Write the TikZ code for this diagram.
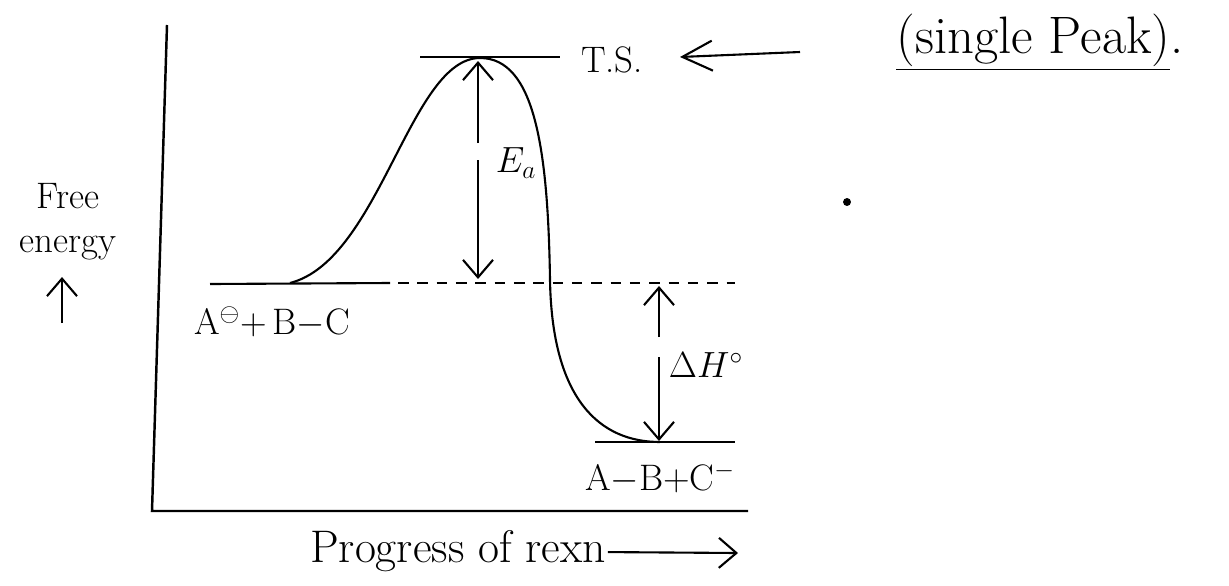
\documentclass[tikz,border=0pt]{standalone}
\usepackage{tikz}
\usetikzlibrary{arrows.meta,positioning}

\begin{document}
\begin{tikzpicture}[
  x=0.02cm, y=-0.02cm,
  every node/.style={font=\fontsize{21}{25}\selectfont, inner sep=1pt},
  bignote/.style={font=\fontsize{30}{34}\selectfont},
  axislabel/.style={font=\fontsize{26}{30}\selectfont},
  axis/.style={line width=1.4pt},
  level/.style={line width=1.2pt},
  guide/.style={line width=1.1pt, dash pattern=on 6pt off 5pt},
  curve/.style={line width=1.2pt},
  edge/.style={-{Straight Barb[length=3.5mm,width=6mm]}, line width=1.2pt},
  pointer/.style={-{Straight Barb[length=6mm,width=6mm]}, line width=1.2pt}
]
\useasboundingbox (0,0) rectangle (1229,585);

\coordinate (ytop) at (167,25);
\coordinate (origin) at (152,511);
\coordinate (xend) at (748,511);
\draw[axis] (ytop) -- (origin) -- (xend);

\coordinate (reacL) at (210,284);
\coordinate (reacR) at (390,283);
\coordinate (dashL) at (398,283);
\coordinate (dashR) at (735,283);
\coordinate (prodL) at (595,442);
\coordinate (prodR) at (735,442);
\coordinate (tsL) at (420,57);
\coordinate (tsR) at (560,57);
\draw[level] (reacL) -- (reacR);
\draw[guide] (dashL) -- (dashR);
\draw[level] (prodL) -- (prodR);
\draw[level] (tsL) -- (tsR);

\coordinate (start) at (290,283);
\coordinate (peak) at (480,58);
\coordinate (drop) at (550,280);
\coordinate (finish) at (660,442);
\draw[curve] (start) .. controls (380,260) and (410,58) .. (peak)
  .. controls (535,58) and (548,150) .. (drop)
  .. controls (552,400) and (600,442) .. (finish);

\node (ts) at (612,60) {T.S.};
\coordinate (tsfrom) at (800,52);
\coordinate (tstip) at (680,57);
\draw[pointer] (tsfrom) -- (tstip);
\node[bignote] (peaknote) at (1040,42) {\underline{(single Peak)}.};

\node (ea) at (516,163) {$E_a$};
\coordinate (eatop) at (478,61);
\coordinate (eamidA) at (478,143);
\coordinate (eamidB) at (478,160);
\coordinate (eabot) at (478,279);
\draw[edge] (eamidA) -- (eatop);
\draw[edge] (eamidB) -- (eabot);

\node (dh) at (706,365) {$\Delta H^{\circ}$};
\coordinate (dhtop) at (659,286);
\coordinate (dhmidA) at (659,337);
\coordinate (dhmidB) at (659,357);
\coordinate (dhbot) at (659,441);
\draw[edge] (dhmidA) -- (dhtop);
\draw[edge] (dhmidB) -- (dhbot);

\node[align=center] (ylab) at (68,222) {Free\\energy};
\coordinate (yarrowB) at (62,323);
\coordinate (yarrowT) at (62,277);
\draw[edge] (yarrowB) -- (yarrowT);

\node (reac) at (272,322) {A$^{\ominus}$+\,B$-$C};
\node (prod) at (660,478) {A$-$B+C$^{-}$};

\node[axislabel] (xlab) at (458,551) {Progress of rexn};
\coordinate (xarrow) at (738,553);
\draw[edge] (xlab) -- (xarrow);

\node[circle, fill, inner sep=1.6pt] (dot) at (847,202) {};
\end{tikzpicture}
\end{document}
